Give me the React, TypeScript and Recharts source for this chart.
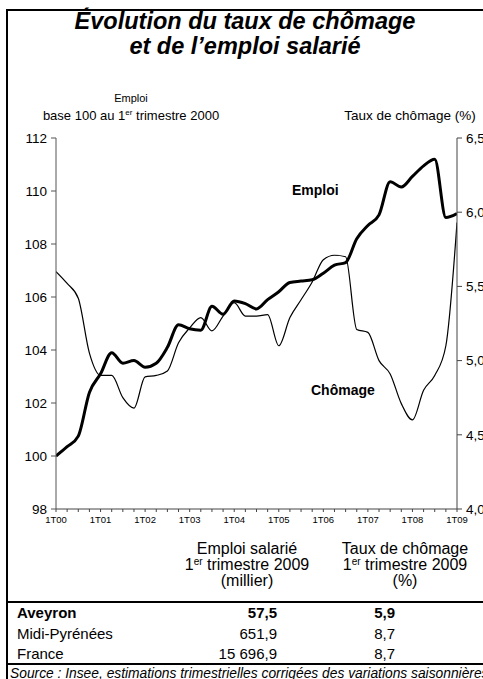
import React from 'react';
import { LineChart, Line, XAxis, YAxis } from 'recharts';

const yearLabels = ['1T00', '1T01', '1T02', '1T03', '1T04', '1T05', '1T06', '1T07', '1T08', '1T09'];

const emploi = [
  100.0, 100.35, 100.75, 102.4, 103.1, 103.9, 103.5, 103.6, 103.35, 103.5,
  104.1, 104.95, 104.8, 104.75, 105.65, 105.35, 105.85, 105.75, 105.55, 105.9,
  106.2, 106.55, 106.6, 106.65, 106.9, 107.2, 107.3, 108.2, 108.7, 109.1,
  110.35, 110.15, 110.55, 110.95, 111.2, 109.0, 109.15,
];

const chomage = [
  5.6, 5.52, 5.42, 5.05, 4.9, 4.9, 4.75, 4.68, 4.89, 4.9,
  4.93, 5.12, 5.22, 5.29, 5.2, 5.3, 5.39, 5.3, 5.3, 5.31,
  5.1, 5.29, 5.41, 5.53, 5.68, 5.71, 5.7, 5.21, 5.19, 5.0,
  4.91, 4.71, 4.6, 4.8, 4.9, 5.1, 5.93,
];

const leftTicks = [98, 100, 102, 104, 106, 108, 110, 112];
const rightTicks = [4.0, 4.5, 5.0, 5.5, 6.0, 6.5];

const tableRows = [
  { name: 'Aveyron', emploi: '57,5', chomage: '5,9', bold: true },
  { name: 'Midi-Pyrénées', emploi: '651,9', chomage: '8,7', bold: false },
  { name: 'France', emploi: '15 696,9', chomage: '8,7', bold: false },
];

const data = emploi.map((e, i) => ({ q: i, emploi: e, chomage: chomage[i] }));
const quarterTicks = emploi.map((_, i) => i);

const FONT = '"Liberation Sans", Arial, sans-serif';

const abs = (s: React.CSSProperties): React.CSSProperties => ({ position: 'absolute', ...s });
const supStyle = (fs: number): React.CSSProperties => ({ fontSize: fs, verticalAlign: 'top', lineHeight: '10px' });

export default function App() {
  return (
    <div style={abs({ left: 0, top: 0, width: 483, height: 679, overflow: 'hidden', background: '#fff', fontFamily: FONT, color: '#000' })}>
      {/* frame */}
      <div style={abs({ left: 6, top: 9, width: 520, height: 720, border: '2px solid #000', boxSizing: 'border-box' })} />
      {/* title */}
      <div style={abs({ left: 0, top: 9, width: 490, textAlign: 'center', fontWeight: 'bold', fontStyle: 'italic', fontSize: 23.5, lineHeight: '25px' })}>
        Évolution du taux de chômage
        <br />
        et de l’emploi salarié
      </div>
      {/* axis headers */}
      <div style={abs({ left: 30, top: 90, width: 202, textAlign: 'center', fontSize: 11, lineHeight: '16px' })}>Emploi</div>
      <div style={abs({ left: 20, top: 108, width: 222, textAlign: 'center', fontSize: 13, lineHeight: '16px', whiteSpace: 'nowrap' })}>
        base 100 au 1<sup style={supStyle(8)}>er</sup> trimestre 2000
      </div>
      <div style={abs({ left: 330, top: 108, width: 160, textAlign: 'center', fontSize: 13.5, lineHeight: '16px', whiteSpace: 'nowrap' })}>
        Taux de chômage (%)
      </div>

      <div style={abs({ left: 0, top: 0 })}>
        <LineChart width={483} height={540} data={data} margin={{ top: 138, right: 0, bottom: 6, left: 0 }}>
          <XAxis
            dataKey="q"
            type="number"
            domain={[0, 36]}
            ticks={quarterTicks}
            interval={0}
            tickFormatter={(v: number) => (v % 4 === 0 ? yearLabels[v / 4] : '')}
            tickSize={3}
            tickMargin={4}
            height={25}
            stroke="#444"
            tick={{ fill: '#000', fontSize: 9.5, fontFamily: FONT }}
            allowDataOverflow
          />
          <YAxis
            yAxisId="left"
            orientation="left"
            domain={[98, 112]}
            ticks={leftTicks}
            interval={0}
            width={56}
            tickSize={5}
            tickMargin={4}
            stroke="#555"
            tick={{ fill: '#000', fontSize: 13.5, fontFamily: FONT }}
            allowDataOverflow
          />
          <YAxis
            yAxisId="right"
            orientation="right"
            domain={[4, 6.5]}
            ticks={rightTicks}
            interval={0}
            width={26}
            tickSize={5}
            tickMargin={4}
            stroke="#444"
            tickFormatter={(v: number) => v.toFixed(1).replace('.', ',')}
            tick={{ fill: '#000', fontSize: 13.5, fontFamily: FONT, textAnchor: 'start' }}
            allowDataOverflow
          />
          <Line
            yAxisId="right"
            dataKey="chomage"
            type="monotone"
            stroke="#000"
            strokeWidth={1.2}
            dot={false}
            activeDot={false}
            isAnimationActive={false}
          />
          <Line
            yAxisId="left"
            dataKey="emploi"
            type="monotone"
            stroke="#000"
            strokeWidth={3}
            dot={false}
            activeDot={false}
            isAnimationActive={false}
          />
        </LineChart>
      </div>

      {/* in-chart labels */}
      <div style={abs({ left: 292, top: 182, fontSize: 14, fontWeight: 'bold' })}>Emploi</div>
      <div style={abs({ left: 311, top: 382, fontSize: 14, fontWeight: 'bold' })}>Chômage</div>

      {/* table header */}
      <div style={abs({ left: 165, top: 541, width: 164, textAlign: 'center', fontSize: 16, lineHeight: '16px', whiteSpace: 'nowrap' })}>
        Emploi salarié
        <br />
        1<sup style={supStyle(10)}>er</sup> trimestre 2009
        <br />
        (millier)
      </div>
      <div style={abs({ left: 322, top: 541, width: 166, textAlign: 'center', fontSize: 16, lineHeight: '16px', whiteSpace: 'nowrap' })}>
        Taux de chômage
        <br />
        1<sup style={supStyle(10)}>er</sup> trimestre 2009
        <br />
        (%)
      </div>
      <div style={abs({ left: 6, top: 601, width: 500, height: 2, background: '#000' })} />
      {tableRows.map((r, i) => (
        <React.Fragment key={r.name}>
          <div style={abs({ left: 17, top: 604 + i * 20.5, fontSize: 15, lineHeight: '18px', fontWeight: r.bold ? 'bold' : 'normal' })}>{r.name}</div>
          <div style={abs({ left: 180, width: 97, top: 604 + i * 20.5, textAlign: 'right', fontSize: 15, lineHeight: '18px', fontWeight: r.bold ? 'bold' : 'normal' })}>{r.emploi}</div>
          <div style={abs({ left: 340, width: 55, top: 604 + i * 20.5, textAlign: 'right', fontSize: 15, lineHeight: '18px', fontWeight: r.bold ? 'bold' : 'normal' })}>{r.chomage}</div>
        </React.Fragment>
      ))}
      <div style={abs({ left: 6, top: 663, width: 500, height: 2, background: '#000' })} />
      <div style={abs({ left: 10, top: 666, fontSize: 13.8, fontStyle: 'italic', whiteSpace: 'nowrap', lineHeight: '16px' })}>
        Source : Insee, estimations trimestrielles corrigées des variations saisonnières
      </div>
    </div>
  );
}
